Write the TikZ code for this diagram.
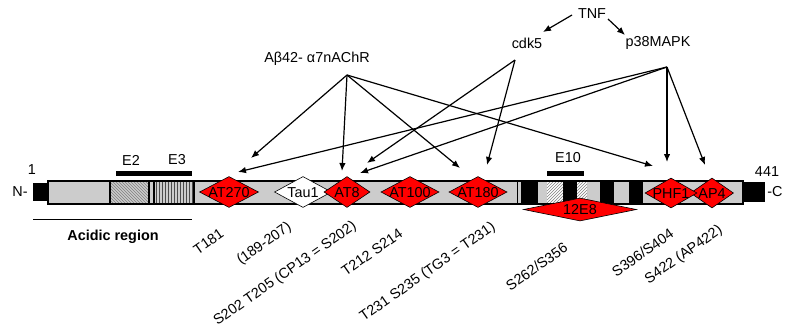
\documentclass[tikz,border=0pt]{standalone}
\usepackage{fontspec}
\setmainfont{Liberation Sans}
\usetikzlibrary{shapes.geometric,patterns,arrows.meta}
\definecolor{bargray}{RGB}{204,204,204}
\newcommand{\dtext}[1]{\makebox[0pt]{\raisebox{-0.36em}[0pt][0pt]{#1}}}
\tikzset{
  lbl/.style={font=\fontsize{14.4}{16}\selectfont, inner sep=0pt},
  rlbl/.style={lbl, rotate=35, anchor=east},
  dia/.style={diamond, draw=black, line width=0.6pt, fill=red, inner sep=0pt,
    font=\fontsize{14.4}{16}\selectfont},
  arr/.style={line width=1.2pt, -{Latex[length=8pt,width=6.5pt]}},
  segbar/.style={line width=5pt},
}
\begin{document}
\begin{tikzpicture}[x=1pt,y=-1pt]
\useasboundingbox (0,0) rectangle (785,330);
% bar
\fill[black] (33,183) rectangle (48,201);
\fill[black] (743,182) rectangle (765,202);
\filldraw[fill=bargray, draw=black, line width=1.6pt] (48,181) rectangle (743,204);
\filldraw[pattern=north west lines, pattern color=gray, draw=black, line width=1.2pt] (110,181) rectangle (149,204);
\filldraw[pattern=vertical lines, pattern color=gray!60!black, draw=black, line width=1.2pt] (154,181) rectangle (194,204);
\draw[line width=0.8pt] (517,181) -- (517,204);
\fill[black] (521,181) rectangle (538,204);
\fill[black] (563,181) rectangle (577,204);
\fill[black] (600,181) rectangle (614,204);
\fill[black] (629,181) rectangle (643,204);
\fill[white] (547,182) rectangle (563,203);
\fill[white] (577,182) rectangle (587,203);
\fill[pattern=north east lines, pattern color=gray] (547,182) rectangle (563,203);
\fill[pattern=north east lines, pattern color=gray] (577,182) rectangle (587,203);
\draw[line width=1.6pt] (48,181) rectangle (743,204);
% segment bars
\draw[segbar] (116,173.5) -- (192,173.5);
\draw[segbar] (547,173.5) -- (584,173.5);
\draw[line width=0.9pt] (33,219) -- (192,219);
% plain labels
\node[lbl] (one) at (32,170) {1};
\node[lbl] (nterm) at (20,192) {N-};
\node[lbl] (n441) at (767,172) {441};
\node[lbl] (cterm) at (775,192) {-C};
\node[lbl] (e2) at (131,160) {E2};
\node[lbl] (e3) at (177,160) {E3};
\node[lbl] (e10) at (568,158) {E10};
\node[lbl, font=\fontsize{14.4}{16}\selectfont\bfseries] (acid) at (113,237) {Acidic region};
% diamonds
\node[dia, minimum width=59pt, minimum height=31pt] (at270) at (229,192) {\dtext{AT270}};
\node[dia, fill=white, minimum width=57pt, minimum height=31pt] (tau1) at (303,192) {\dtext{Tau1}};
\node[dia, minimum width=46pt, minimum height=31pt] (at8) at (347,192) {\dtext{AT8}};
\node[dia, minimum width=58pt, minimum height=31pt] (at100) at (410,192) {\dtext{AT100}};
\node[dia, minimum width=58pt, minimum height=31pt] (at180) at (478,192) {\dtext{AT180}};
\node[dia, minimum width=113pt, minimum height=23pt] (e12e8) at (580,209.5) {\dtext{12E8}};
\node[dia, minimum width=43pt, minimum height=30pt] (ap4) at (712,193) {\dtext{AP4}};
\node[dia, minimum width=52pt, minimum height=30pt] (phf1) at (671,193) {\dtext{PHF1}};
% top labels
\node[lbl] (tnf) at (592,14) {TNF};
\node[lbl] (cdk5) at (527,43) {cdk5};
\node[lbl] (p38) at (658,43) {p38MAPK};
\node[lbl] (ab) at (317,59) {Aβ42- α7nAChR};
% arrow sources and tips
\coordinate (abS) at (347,75);
\coordinate (cdkS) at (515,60);
\coordinate (p38S) at (667,67);
\coordinate (tnfL) at (572,15);
\coordinate (tnfR) at (608,19);
\coordinate (cdkT) at (543,32);
\coordinate (p38T) at (625,35);
\coordinate (t1) at (251,158);
\coordinate (t2) at (342,171);
\coordinate (t3) at (460,168);
\coordinate (t4) at (653,166);
\coordinate (t5) at (367,163);
\coordinate (t6) at (487,165);
\coordinate (t7) at (238,172);
\coordinate (t8) at (360,173);
\coordinate (t9) at (667,162);
\coordinate (t10) at (705,165);
\draw[arr] (tnfL) -- (cdkT);
\draw[arr] (tnfR) -- (p38T);
\draw[arr] (abS) -- (t1);
\draw[arr] (abS) -- (t2);
\draw[arr] (abS) -- (t3);
\draw[arr] (abS) -- (t4);
\draw[arr] (cdkS) -- (t5);
\draw[arr] (cdkS) -- (t6);
\draw[arr] (p38S) -- (t7);
\draw[arr] (p38S) -- (t8);
\draw[arr] (p38S) -- (t9);
\draw[arr] (p38S) -- (t10);
% rotated site labels
\node[rlbl] (s181) at (222,232) {T181};
\node[rlbl] (s189) at (290,226) {(189-207)};
\node[rlbl] (s202) at (355,225) {S202 T205 (CP13 = S202)};
\node[rlbl] (s212) at (401,232) {T212 S214};
\node[rlbl] (s231) at (494,226) {T231 S235 (TG3 = T231)};
\node[rlbl] (s262) at (566,246) {S262/S356};
\node[rlbl] (s396) at (672,232) {S396/S404};
\node[rlbl] (s422) at (721,229) {S422 (AP422)};
\end{tikzpicture}
\end{document}
